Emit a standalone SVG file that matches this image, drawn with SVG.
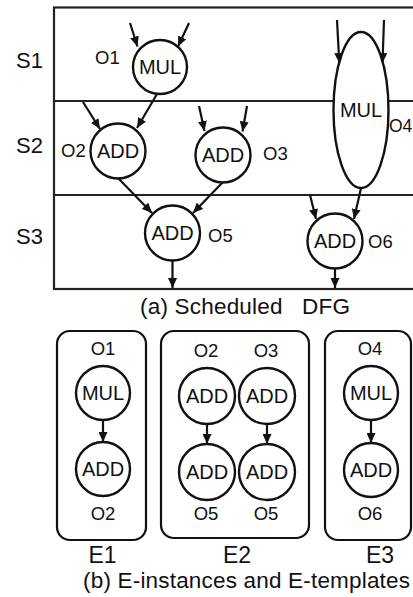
<svg xmlns="http://www.w3.org/2000/svg" width="413" height="597" viewBox="0 0 413 597">
<style>
  text { font-family: "Liberation Sans", Arial, sans-serif; fill: #111; }
  .stage { font-size: 22px; }
  .op { font-size: 20px; text-anchor: middle; }
  .lbl { font-size: 18.5px; }
  .lblc { font-size: 18.5px; text-anchor: middle; }
  .cap { font-size: 22.5px; }
  .eid { font-size: 23px; text-anchor: middle; }
  .node { fill: #fff; stroke: #111; stroke-width: 2.4; }
  .frame { fill: none; stroke: #222; stroke-width: 2.2; }
  .box { fill: none; stroke: #111; stroke-width: 2.2; }
  .edge { fill: none; stroke: #111; stroke-width: 2.2; marker-end: url(#arr); }
</style>
<defs>
  <marker id="arr" markerUnits="userSpaceOnUse" viewBox="0 0 10 9" refX="10" refY="4.5" markerWidth="10" markerHeight="9" orient="auto">
    <path d="M0,0 L10,4.5 L0,9 z" fill="#111"/>
  </marker>
</defs>

<!-- (a) Scheduled DFG frame -->
<g id="frame">
  <rect class="frame" x="54" y="7.5" width="420" height="281.5"/>
  <line class="frame" x1="54" y1="101" x2="413" y2="101"/>
  <line class="frame" x1="54" y1="195" x2="413" y2="195"/>
  <text class="stage" x="16" y="68">S1</text>
  <text class="stage" x="16" y="153">S2</text>
  <text class="stage" x="16" y="244">S3</text>
</g>

<g id="connectors">
  <line class="edge" x1="130" y1="23" x2="137.5" y2="46.5"/>
  <line class="edge" x1="189" y1="23" x2="178" y2="46.5"/>
  <line class="edge" x1="157" y1="94" x2="137" y2="128"/>
  <line class="edge" x1="83" y1="102" x2="100" y2="129"/>
  <line class="edge" x1="199" y1="106" x2="204.5" y2="131"/>
  <line class="edge" x1="247" y1="106" x2="242.5" y2="131.5"/>
  <line class="edge" x1="118" y1="178" x2="152" y2="213"/>
  <line class="edge" x1="223" y1="182" x2="193" y2="213"/>
  <line class="edge" x1="172.5" y1="261" x2="172.5" y2="288"/>
  <line class="edge" x1="337" y1="20" x2="339.3" y2="63"/>
  <line class="edge" x1="384" y1="20" x2="382.5" y2="63"/>
  <line class="edge" x1="310" y1="195" x2="316" y2="219"/>
  <line class="edge" x1="361" y1="188" x2="354" y2="219"/>
  <line class="edge" x1="335" y1="269" x2="335" y2="288"/>
  <!-- bottom templates -->
  <line class="edge" x1="103" y1="420" x2="103" y2="442"/>
  <line class="edge" x1="207" y1="424" x2="207" y2="444"/>
  <line class="edge" x1="267" y1="424" x2="267" y2="444"/>
  <line class="edge" x1="371" y1="420" x2="371" y2="443"/>
</g>

<g id="O1">
  <circle class="node" cx="160" cy="67" r="27"/>
  <text class="op" x="160" y="74">MUL</text>
  <text class="lbl" x="95" y="64">O1</text>
</g>
<g id="O2">
  <circle class="node" cx="118" cy="151" r="27.5"/>
  <text class="op" x="118" y="158">ADD</text>
  <text class="lbl" x="61" y="157">O2</text>
</g>
<g id="O3">
  <circle class="node" cx="223" cy="155" r="27.5"/>
  <text class="op" x="223" y="162">ADD</text>
  <text class="lbl" x="263" y="160">O3</text>
</g>
<g id="O4">
  <ellipse class="node" cx="361" cy="110" rx="27.5" ry="78"/>
  <text class="op" x="361" y="117">MUL</text>
  <text class="lbl" x="389" y="132" style="font-size:17.5px">O4</text>
</g>
<g id="O5">
  <circle class="node" cx="172.5" cy="233" r="27.5"/>
  <text class="op" x="172.5" y="240">ADD</text>
  <text class="lbl" x="208" y="242">O5</text>
</g>
<g id="O6">
  <circle class="node" cx="335" cy="241" r="27.5"/>
  <text class="op" x="335" y="248">ADD</text>
  <text class="lbl" x="368" y="248">O6</text>
</g>

<text class="cap" x="140" y="314" xml:space="preserve" textLength="210" lengthAdjust="spacing">(a) Scheduled   DFG</text>

<!-- (b) E-instances and E-templates -->
<g id="E1">
  <rect class="box" x="57" y="331" width="89" height="209" rx="13"/>
  <text class="lblc" x="103" y="355">O1</text>
  <circle class="node" cx="103" cy="393" r="27"/>
  <text class="op" x="103" y="400">MUL</text>
  <circle class="node" cx="103" cy="469" r="27"/>
  <text class="op" x="103" y="476">ADD</text>
  <text class="lblc" x="103" y="520">O2</text>
  <text class="eid" x="102.5" y="563">E1</text>
</g>
<g id="E2">
  <rect class="box" x="161" y="331" width="148" height="207" rx="13"/>
  <text class="lblc" x="206" y="357">O2</text>
  <text class="lblc" x="266" y="357">O3</text>
  <circle class="node" cx="207" cy="396" r="28"/>
  <text class="op" x="207" y="403">ADD</text>
  <circle class="node" cx="267" cy="396" r="28"/>
  <text class="op" x="267" y="403">ADD</text>
  <circle class="node" cx="207" cy="472" r="28"/>
  <text class="op" x="207" y="479">ADD</text>
  <circle class="node" cx="267" cy="472" r="28"/>
  <text class="op" x="267" y="479">ADD</text>
  <text class="lblc" x="206" y="520">O5</text>
  <text class="lblc" x="266" y="520">O5</text>
  <text class="eid" x="237" y="563">E2</text>
</g>
<g id="E3">
  <rect class="box" x="325" y="331" width="86" height="209" rx="13"/>
  <text class="lblc" x="370" y="355">O4</text>
  <circle class="node" cx="371" cy="393" r="27"/>
  <text class="op" x="371" y="400">MUL</text>
  <circle class="node" cx="371" cy="470" r="27"/>
  <text class="op" x="371" y="477">ADD</text>
  <text class="lblc" x="370" y="520">O6</text>
  <text class="eid" x="380" y="563">E3</text>
</g>

<text class="cap" x="83" y="588" textLength="327" lengthAdjust="spacing">(b) E-instances and E-templates</text>
</svg>
